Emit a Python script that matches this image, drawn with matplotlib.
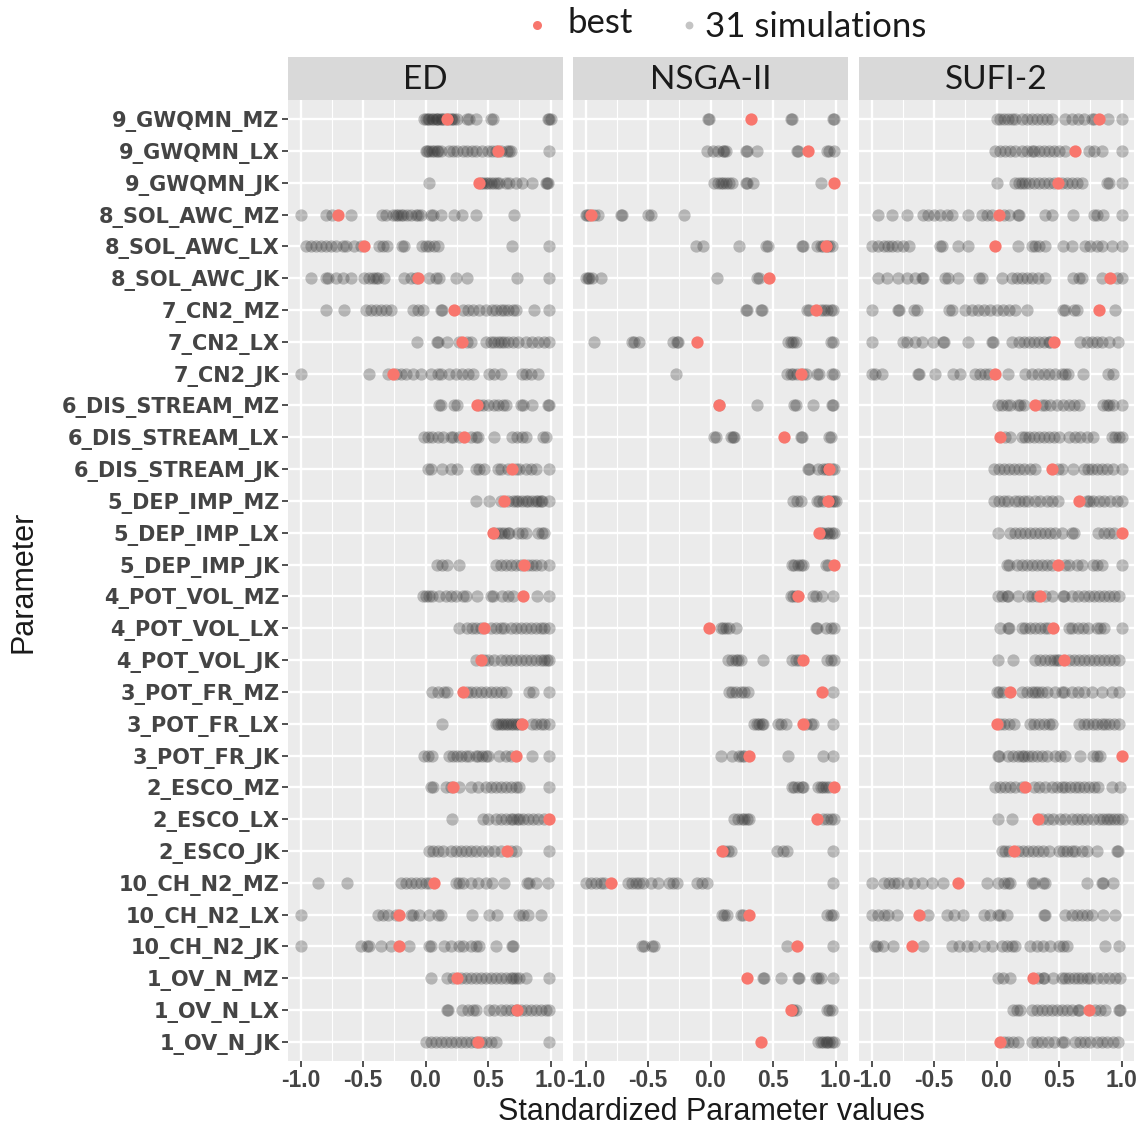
import numpy as np
import matplotlib
matplotlib.use("Agg")
import matplotlib.pyplot as plt

plt.rcParams['axes.unicode_minus'] = False

# parameters, top row first
params = ['9_GWQMN_MZ', '9_GWQMN_LX', '9_GWQMN_JK',
          '8_SOL_AWC_MZ', '8_SOL_AWC_LX', '8_SOL_AWC_JK',
          '7_CN2_MZ', '7_CN2_LX', '7_CN2_JK',
          '6_DIS_STREAM_MZ', '6_DIS_STREAM_LX', '6_DIS_STREAM_JK',
          '5_DEP_IMP_MZ', '5_DEP_IMP_LX', '5_DEP_IMP_JK',
          '4_POT_VOL_MZ', '4_POT_VOL_LX', '4_POT_VOL_JK',
          '3_POT_FR_MZ', '3_POT_FR_LX', '3_POT_FR_JK',
          '2_ESCO_MZ', '2_ESCO_LX', '2_ESCO_JK',
          '10_CH_N2_MZ', '10_CH_N2_LX', '10_CH_N2_JK',
          '1_OV_N_MZ', '1_OV_N_LX', '1_OV_N_JK']

methods = ['ED', 'NSGA-II', 'SUFI-2']

# ---- ED ----
ed_sims = [
    [-0.01, 0.0, 0.02, 0.03, 0.05, 0.06, 0.08, 0.09, 0.1, 0.12, 0.13, 0.15, 0.18, 0.2, 0.21, 0.23, 0.25, 0.33, 0.35, 0.4, 0.52, 0.54, 0.98, 0.99, 1.0],
    [0.0, 0.01, 0.03, 0.05, 0.07, 0.09, 0.1, 0.12, 0.19, 0.22, 0.25, 0.3, 0.33, 0.37, 0.4, 0.45, 0.5, 0.53, 0.56, 0.6, 0.65, 0.67, 0.68, 0.99],
    [0.03, 0.44, 0.46, 0.48, 0.5, 0.52, 0.55, 0.57, 0.59, 0.64, 0.67, 0.72, 0.77, 0.85, 0.96, 0.97, 0.98],
    [-1.0, -0.8, -0.75, -0.6, -0.35, -0.32, -0.26, -0.24, -0.22, -0.2, -0.18, -0.15, -0.12, -0.08, -0.06, -0.04, 0.04, 0.06, 0.12, 0.23, 0.29, 0.4, 0.71],
    [-0.96, -0.92, -0.88, -0.84, -0.8, -0.76, -0.72, -0.66, -0.64, -0.57, -0.52, -0.37, -0.34, -0.31, -0.19, -0.17, -0.03, 0.0, 0.03, 0.07, 0.1, 0.69, 0.99],
    [-0.92, -0.8, -0.78, -0.72, -0.66, -0.6, -0.49, -0.45, -0.42, -0.4, -0.38, -0.33, -0.17, -0.12, -0.08, 0.03, 0.08, 0.11, 0.24, 0.33, 0.73, 0.99],
    [-0.8, -0.65, -0.48, -0.44, -0.4, -0.36, -0.32, -0.28, -0.1, -0.06, -0.02, 0.12, 0.13, 0.3, 0.34, 0.38, 0.43, 0.48, 0.53, 0.56, 0.6, 0.63, 0.66, 0.7, 0.72, 0.87, 0.99],
    [-0.07, 0.09, 0.1, 0.17, 0.27, 0.33, 0.36, 0.48, 0.52, 0.55, 0.58, 0.6, 0.63, 0.66, 0.7, 0.74, 0.8, 0.85, 0.9, 0.95, 0.99],
    [-1.0, -0.45, -0.3, -0.24, -0.2, -0.16, -0.1, -0.04, 0.04, 0.1, 0.12, 0.19, 0.24, 0.29, 0.34, 0.38, 0.51, 0.55, 0.6, 0.77, 0.8, 0.84, 0.9],
    [0.11, 0.12, 0.23, 0.25, 0.43, 0.46, 0.5, 0.55, 0.58, 0.62, 0.64, 0.76, 0.78, 0.85, 0.98, 0.99],
    [-0.01, 0.02, 0.05, 0.1, 0.14, 0.2, 0.22, 0.27, 0.36, 0.4, 0.42, 0.55, 0.69, 0.73, 0.77, 0.8, 0.94, 0.96],
    [0.02, 0.04, 0.13, 0.2, 0.25, 0.4, 0.43, 0.47, 0.58, 0.6, 0.66, 0.72, 0.75, 0.8, 0.84, 0.88, 0.99],
    [0.4, 0.51, 0.6, 0.66, 0.7, 0.72, 0.74, 0.77, 0.8, 0.82, 0.85, 0.88, 0.9, 0.92, 0.93, 0.99],
    [0.55, 0.58, 0.6, 0.63, 0.66, 0.67, 0.74, 0.77, 0.8, 0.9, 0.93, 0.95],
    [0.09, 0.13, 0.17, 0.27, 0.56, 0.6, 0.64, 0.68, 0.72, 0.76, 0.82, 0.85, 0.88, 0.92, 0.99],
    [-0.02, 0.0, 0.03, 0.05, 0.11, 0.16, 0.2, 0.24, 0.3, 0.32, 0.41, 0.52, 0.54, 0.61, 0.66, 0.7, 0.89, 0.99],
    [0.27, 0.33, 0.37, 0.4, 0.44, 0.52, 0.56, 0.6, 0.63, 0.68, 0.72, 0.76, 0.8, 0.84, 0.88, 0.92, 0.95, 0.99],
    [0.4, 0.47, 0.5, 0.55, 0.6, 0.64, 0.68, 0.72, 0.76, 0.8, 0.84, 0.88, 0.92, 0.95, 0.97, 0.99],
    [0.05, 0.1, 0.15, 0.17, 0.33, 0.36, 0.4, 0.44, 0.48, 0.52, 0.56, 0.6, 0.64, 0.83, 0.86, 0.99],
    [0.13, 0.56, 0.58, 0.6, 0.62, 0.64, 0.66, 0.68, 0.7, 0.72, 0.74, 0.76, 0.85, 0.88, 0.92, 0.95, 0.99],
    [-0.01, 0.02, 0.05, 0.19, 0.22, 0.25, 0.28, 0.32, 0.35, 0.4, 0.42, 0.45, 0.48, 0.5, 0.59, 0.64, 0.68, 0.85, 0.99],
    [0.04, 0.06, 0.16, 0.2, 0.27, 0.36, 0.42, 0.48, 0.52, 0.56, 0.6, 0.64, 0.68, 0.72, 0.75, 0.99],
    [0.21, 0.46, 0.5, 0.56, 0.6, 0.64, 0.68, 0.7, 0.73, 0.75, 0.78, 0.82, 0.86, 0.9, 0.95],
    [0.03, 0.06, 0.1, 0.14, 0.2, 0.24, 0.28, 0.32, 0.36, 0.4, 0.45, 0.5, 0.55, 0.6, 0.68, 0.72, 0.99],
    [-0.86, -0.63, -0.2, -0.16, -0.12, -0.08, -0.04, 0.0, 0.03, 0.24, 0.27, 0.3, 0.36, 0.42, 0.48, 0.53, 0.63, 0.81, 0.83, 0.88, 0.98],
    [-1.0, -0.38, -0.34, -0.3, -0.24, -0.12, -0.1, -0.05, 0.03, 0.1, 0.12, 0.37, 0.51, 0.57, 0.75, 0.78, 0.82, 0.92],
    [-1.0, -0.52, -0.47, -0.45, -0.36, -0.28, -0.13, 0.03, 0.04, 0.15, 0.2, 0.27, 0.3, 0.36, 0.4, 0.43, 0.56, 0.69, 0.7],
    [0.04, 0.17, 0.22, 0.28, 0.32, 0.36, 0.4, 0.44, 0.48, 0.52, 0.56, 0.6, 0.64, 0.68, 0.7, 0.72, 0.75, 0.8, 0.99],
    [0.17, 0.18, 0.29, 0.34, 0.38, 0.4, 0.51, 0.55, 0.6, 0.64, 0.68, 0.72, 0.76, 0.8, 0.84, 0.88, 0.92, 0.96, 0.99],
    [0.0, 0.04, 0.08, 0.12, 0.16, 0.2, 0.24, 0.28, 0.32, 0.36, 0.4, 0.44, 0.48, 0.52, 0.56, 0.99],
]
ed_best = [0.17, 0.58, 0.43, -0.70, -0.49, -0.06, 0.23, 0.29, -0.26, 0.41,
           0.31, 0.69, 0.63, 0.54, 0.79, 0.78, 0.47, 0.44, 0.30, 0.77,
           0.72, 0.22, 0.99, 0.65, 0.07, -0.21, -0.21, 0.25, 0.73, 0.42]

# ---- NSGA-II ----
nsga_sims = [
    [-0.02, -0.01, 0.64, 0.65, 0.98, 0.99],
    [-0.03, 0.02, 0.06, 0.1, 0.11, 0.12, 0.28, 0.29, 0.37, 0.69, 0.7, 0.93, 0.95, 0.99],
    [0.03, 0.06, 0.08, 0.1, 0.12, 0.15, 0.17, 0.28, 0.29, 0.34, 0.88],
    [-1.0, -0.99, -0.97, -0.93, -0.9, -0.72, -0.71, -0.5, -0.48, -0.21],
    [-0.12, -0.06, 0.23, 0.44, 0.46, 0.73, 0.74, 0.85, 0.88, 0.9, 0.93, 0.95, 0.97],
    [-1.0, -0.98, -0.97, -0.95, -0.88, 0.05, 0.37, 0.39],
    [0.28, 0.29, 0.4, 0.41, 0.77, 0.79, 0.88, 0.91, 0.93, 0.96, 0.98],
    [-0.93, -0.63, -0.61, -0.57, -0.3, -0.27, -0.26, 0.62, 0.64, 0.66, 0.68, 0.96, 0.98],
    [-0.28, 0.61, 0.64, 0.66, 0.69, 0.74, 0.76, 0.85, 0.87, 0.97, 0.99],
    [0.07, 0.37, 0.67, 0.68, 0.82, 0.97, 0.98],
    [0.03, 0.04, 0.16, 0.18, 0.19, 0.72, 0.73, 0.95, 0.96],
    [0.78, 0.79, 0.86, 0.9, 0.92, 0.94, 0.97, 0.99],
    [0.66, 0.69, 0.72, 0.85, 0.87, 0.9, 0.95, 0.97, 0.99, 1.0],
    [0.88, 0.9, 0.93, 0.95, 0.97, 0.99],
    [0.65, 0.67, 0.7, 0.72, 0.74, 0.92, 0.94],
    [0.64, 0.66, 0.68, 0.82, 0.84, 0.89, 0.98],
    [0.08, 0.1, 0.12, 0.15, 0.2, 0.84, 0.85, 0.92, 0.96, 0.99],
    [0.14, 0.17, 0.2, 0.22, 0.24, 0.42, 0.65, 0.68, 0.71, 0.93, 0.96, 0.99],
    [0.15, 0.17, 0.2, 0.24, 0.27, 0.3, 0.98],
    [0.35, 0.37, 0.39, 0.41, 0.42, 0.54, 0.56, 0.6, 0.76, 0.8, 0.82, 0.98],
    [0.08, 0.17, 0.23, 0.25, 0.27, 0.62, 0.9, 0.98],
    [0.65, 0.67, 0.7, 0.73, 0.74, 0.86, 0.88, 0.9, 0.92, 0.95],
    [0.19, 0.22, 0.25, 0.27, 0.29, 0.31, 0.9, 0.93, 0.96, 0.99],
    [0.11, 0.14, 0.16, 0.53, 0.58, 0.61, 0.98],
    [-1.0, -0.96, -0.92, -0.88, -0.85, -0.66, -0.63, -0.6, -0.57, -0.54, -0.48, -0.42, -0.33, -0.3, -0.27, -0.11, -0.07, -0.03, 0.98],
    [0.09, 0.11, 0.13, 0.24, 0.26, 0.93, 0.96, 0.98],
    [-0.55, -0.53, -0.47, -0.45, 0.61, 0.98],
    [0.42, 0.43, 0.56, 0.7, 0.71, 0.84, 0.86, 0.88, 0.98],
    [0.65, 0.66, 0.68, 0.93, 0.95, 0.97],
    [0.86, 0.88, 0.9, 0.92, 0.93, 0.95, 0.97, 0.99],
]
nsga_best = [0.32, 0.78, 0.99, -0.96, 0.92, 0.47, 0.84, -0.11, 0.72, 0.07,
             0.59, 0.95, 0.94, 0.87, 0.99, 0.70, -0.01, 0.74, 0.89, 0.74,
             0.31, 0.99, 0.85, 0.09, -0.80, 0.31, 0.69, 0.29, 0.64, 0.40]

# ---- SUFI-2 ----
sufi_sims = [
    [0.0, 0.03, 0.06, 0.09, 0.12, 0.15, 0.2, 0.24, 0.28, 0.32, 0.36, 0.4, 0.44, 0.55, 0.6, 0.65, 0.7, 0.76, 0.78, 0.89, 1.0],
    [-0.01, 0.03, 0.07, 0.11, 0.15, 0.2, 0.24, 0.28, 0.3, 0.34, 0.38, 0.42, 0.46, 0.5, 0.55, 0.74, 0.78, 0.84, 1.0],
    [0.0, 0.15, 0.18, 0.2, 0.23, 0.26, 0.3, 0.34, 0.38, 0.42, 0.46, 0.52, 0.56, 0.6, 0.64, 0.68, 0.88, 0.9, 1.0],
    [-0.95, -0.84, -0.72, -0.59, -0.55, -0.5, -0.45, -0.4, -0.36, -0.23, -0.12, -0.08, -0.04, 0.06, 0.1, 0.17, 0.18, 0.39, 0.44, 0.61, 0.78, 0.8, 0.85, 1.0],
    [-1.0, -0.95, -0.9, -0.87, -0.84, -0.8, -0.75, -0.7, -0.45, -0.44, -0.31, -0.23, 0.17, 0.28, 0.31, 0.34, 0.39, 0.53, 0.6, 0.71, 0.75, 0.8, 0.84, 0.92, 1.0],
    [-0.95, -0.88, -0.79, -0.72, -0.65, -0.6, -0.59, -0.41, -0.39, -0.31, -0.14, -0.12, 0.04, 0.12, 0.16, 0.2, 0.24, 0.28, 0.33, 0.39, 0.61, 0.66, 0.68, 0.84, 0.96, 1.0],
    [-1.0, -0.79, -0.78, -0.66, -0.64, -0.38, -0.36, -0.25, -0.2, -0.15, -0.1, -0.05, 0.0, 0.05, 0.1, 0.15, 0.24, 0.53, 0.55, 0.62, 0.64, 0.95],
    [-1.0, -0.75, -0.72, -0.65, -0.6, -0.51, -0.43, -0.42, -0.23, -0.04, -0.03, 0.12, 0.18, 0.22, 0.26, 0.3, 0.34, 0.38, 0.42, 0.43, 0.67, 0.72, 0.76, 0.8, 0.84, 0.9, 0.97],
    [-1.0, -0.97, -0.92, -0.63, -0.62, -0.49, -0.35, -0.29, -0.17, -0.13, -0.09, -0.06, 0.09, 0.23, 0.28, 0.33, 0.38, 0.42, 0.47, 0.52, 0.55, 0.57, 0.69, 0.89, 0.93],
    [0.01, 0.04, 0.08, 0.11, 0.17, 0.19, 0.22, 0.36, 0.39, 0.43, 0.48, 0.53, 0.58, 0.62, 0.66, 0.85, 0.88, 0.9, 0.93, 1.0],
    [0.07, 0.11, 0.2, 0.23, 0.26, 0.3, 0.34, 0.38, 0.42, 0.46, 0.5, 0.58, 0.63, 0.67, 0.72, 0.77, 0.92, 0.95, 0.98, 1.0],
    [-0.02, 0.02, 0.06, 0.1, 0.14, 0.18, 0.22, 0.27, 0.31, 0.49, 0.52, 0.61, 0.7, 0.73, 0.76, 0.8, 0.84, 0.88, 0.93, 1.0],
    [-0.02, 0.02, 0.06, 0.09, 0.15, 0.18, 0.22, 0.25, 0.31, 0.35, 0.4, 0.44, 0.49, 0.72, 0.74, 0.77, 0.82, 0.86, 0.91, 0.96, 1.0],
    [0.01, 0.11, 0.15, 0.19, 0.23, 0.27, 0.31, 0.35, 0.39, 0.43, 0.47, 0.52, 0.6, 0.62, 0.81, 0.86, 0.9, 0.94],
    [0.08, 0.1, 0.16, 0.2, 0.24, 0.28, 0.32, 0.36, 0.4, 0.44, 0.55, 0.58, 0.64, 0.68, 0.77, 0.8, 0.84, 1.0],
    [0.01, 0.04, 0.08, 0.09, 0.17, 0.25, 0.28, 0.32, 0.39, 0.44, 0.53, 0.54, 0.6, 0.65, 0.7, 0.74, 0.78, 0.82, 0.86, 0.9, 0.94, 0.98],
    [0.03, 0.09, 0.1, 0.2, 0.23, 0.27, 0.31, 0.35, 0.39, 0.41, 0.58, 0.6, 0.65, 0.69, 0.73, 0.8, 0.83, 0.86, 1.0],
    [0.01, 0.13, 0.31, 0.35, 0.39, 0.43, 0.46, 0.48, 0.5, 0.58, 0.62, 0.66, 0.7, 0.74, 0.78, 0.82, 0.86, 0.9, 0.94, 0.98],
    [0.0, 0.02, 0.05, 0.2, 0.24, 0.28, 0.31, 0.33, 0.36, 0.4, 0.47, 0.52, 0.54, 0.6, 0.65, 0.7, 0.76, 0.84, 0.92, 0.98],
    [0.03, 0.06, 0.1, 0.14, 0.27, 0.3, 0.34, 0.38, 0.42, 0.44, 0.66, 0.7, 0.73, 0.77, 0.8, 0.84, 0.87, 0.9, 0.94, 0.98],
    [0.01, 0.02, 0.09, 0.13, 0.17, 0.2, 0.22, 0.25, 0.28, 0.32, 0.36, 0.4, 0.47, 0.51, 0.55, 0.67, 0.77, 0.8, 0.83],
    [-0.01, 0.03, 0.07, 0.11, 0.15, 0.2, 0.3, 0.34, 0.39, 0.44, 0.48, 0.52, 0.55, 0.59, 0.63, 0.66, 0.7, 0.74, 0.78, 0.81, 0.92, 0.99],
    [0.01, 0.12, 0.36, 0.41, 0.45, 0.51, 0.55, 0.6, 0.64, 0.68, 0.72, 0.77, 0.82, 0.85, 0.88, 0.91, 0.94, 0.97, 1.0],
    [0.04, 0.07, 0.1, 0.17, 0.21, 0.25, 0.29, 0.33, 0.37, 0.42, 0.5, 0.53, 0.56, 0.6, 0.63, 0.68, 0.72, 0.8, 0.96, 0.97],
    [-1.0, -0.9, -0.86, -0.82, -0.79, -0.72, -0.66, -0.6, -0.52, -0.43, -0.08, 0.01, 0.06, 0.09, 0.11, 0.28, 0.3, 0.37, 0.39, 0.72, 0.84, 0.85, 0.93],
    [-1.0, -0.95, -0.9, -0.87, -0.8, -0.55, -0.4, -0.34, -0.27, -0.1, -0.05, 0.01, 0.03, 0.08, 0.38, 0.39, 0.55, 0.6, 0.64, 0.68, 0.72, 0.76, 0.85, 0.95],
    [-0.97, -0.96, -0.91, -0.83, -0.59, -0.36, -0.3, -0.24, -0.18, -0.1, -0.04, 0.04, 0.08, 0.12, 0.15, 0.27, 0.32, 0.37, 0.43, 0.5, 0.53, 0.56, 0.87, 0.98],
    [0.01, 0.05, 0.11, 0.33, 0.37, 0.38, 0.45, 0.52, 0.55, 0.58, 0.62, 0.65, 0.68, 0.72, 0.75, 0.8, 0.85, 0.9, 0.95, 0.99],
    [0.13, 0.16, 0.19, 0.28, 0.32, 0.36, 0.4, 0.44, 0.48, 0.52, 0.56, 0.6, 0.65, 0.66, 0.79, 0.83, 0.87, 0.98, 0.99],
    [0.06, 0.09, 0.13, 0.17, 0.28, 0.32, 0.36, 0.41, 0.46, 0.52, 0.54, 0.63, 0.67, 0.71, 0.75, 0.8, 0.84, 0.88, 0.93, 0.97],
]
sufi_best = [0.82, 0.63, 0.49, 0.02, -0.01, 0.91, 0.82, 0.46, -0.01, 0.31,
             0.03, 0.44, 0.66, 1.0, 0.49, 0.35, 0.45, 0.54, 0.11, 0.0,
             1.0, 0.23, 0.33, 0.14, -0.31, -0.62, -0.68, 0.29, 0.74, 0.03]

xticks = [-1.0, -0.5, 0.0, 0.5, 1.0]
xtick_labels = ['-1.0', '-0.5', '0.0', '0.5', '1.0']

sims_all = [ed_sims, nsga_sims, sufi_sims]
best_all = [ed_best, nsga_best, sufi_best]

W, H = 1140, 1130
fig = plt.figure(figsize=(W / 100, H / 100), dpi=100)

panel_left = [288, 573, 859]
panel_w = 275
panel_top, panel_bot = 100, 1061
strip_top = 57

ypos = np.arange(len(params), 0, -1)
grey = '#333333'
red = '#F8766D'
lab_col = '#444444'

for k, name in enumerate(methods):
    ax = fig.add_axes([panel_left[k] / W, 1 - panel_bot / H,
                       panel_w / W, (panel_bot - panel_top) / H])
    ax.set_facecolor('#ebebeb')
    for s in ax.spines.values():
        s.set_visible(False)
    ax.set_xlim(-1.1, 1.1)
    ax.set_ylim(0.4, len(params) + 0.6)
    ax.set_xticks(xticks)
    ax.set_xticks([-0.75, -0.25, 0.25, 0.75], minor=True)
    ax.set_yticks(ypos)
    ax.grid(which='major', color='white', lw=1.7, zorder=0)
    ax.grid(which='minor', axis='x', color='white', lw=0.8, zorder=0)
    ax.set_axisbelow(True)
    ax.tick_params(axis='both', which='major', length=4, width=1.2,
                   color='#333333', labelcolor=lab_col, pad=2)
    ax.tick_params(axis='x', which='minor', length=0)
    if k == 0:
        ax.set_yticklabels(params, fontweight='bold', family='DejaVu Sans',
                           fontsize=15)
    else:
        ax.tick_params(axis='y', length=0, labelleft=False)
    ax.set_xticklabels(xtick_labels, fontweight='bold',
                       family='Liberation Sans', fontsize=16.5)

    sims = sims_all[k]
    for i, row in enumerate(sims):
        ax.scatter(row, [ypos[i]] * len(row), s=78, color=grey, alpha=0.3,
                   linewidths=0, zorder=2)
    ax.scatter(best_all[k], ypos, s=78, color=red, linewidths=0, zorder=3)

    # facet strip
    sax = fig.add_axes([panel_left[k] / W, 1 - panel_top / H,
                        panel_w / W, (panel_top - strip_top) / H])
    sax.set_facecolor('#d9d9d9')
    sax.set_xticks([])
    sax.set_yticks([])
    for s in sax.spines.values():
        s.set_visible(False)
    sax.text(0.5, 0.46, name, ha='center', va='center', fontsize=24,
             family='Lato', color='#1a1a1a', transform=sax.transAxes)

# axis titles
fig.text(711 / W, 1 - 1112 / H, 'Standardized Parameter values', ha='center',
         va='center', fontsize=22, family='Liberation Sans', color='#1a1a1a')
fig.text(24 / W, 1 - 582 / H, 'Parameter', ha='center', va='center',
         rotation=90, fontsize=22, family='Liberation Sans', color='#1a1a1a')

# legend
lax = fig.add_axes([0, 0, 1, 1], facecolor='none')
lax.set_xlim(0, W)
lax.set_ylim(H, 0)
lax.axis('off')
lax.scatter([537], [25], s=42, color=red, linewidths=0)
lax.scatter([689], [25], s=32, color='#c4c4c4', linewidths=0)
lax.text(567, 23, 'best', ha='left', va='center', fontsize=25, family='Lato',
         color='#1a1a1a')
lax.text(705, 27, '31 simulations', ha='left', va='center', fontsize=25,
         family='Lato', color='#1a1a1a')

fig.savefig('out.png', dpi=100, facecolor='white')
